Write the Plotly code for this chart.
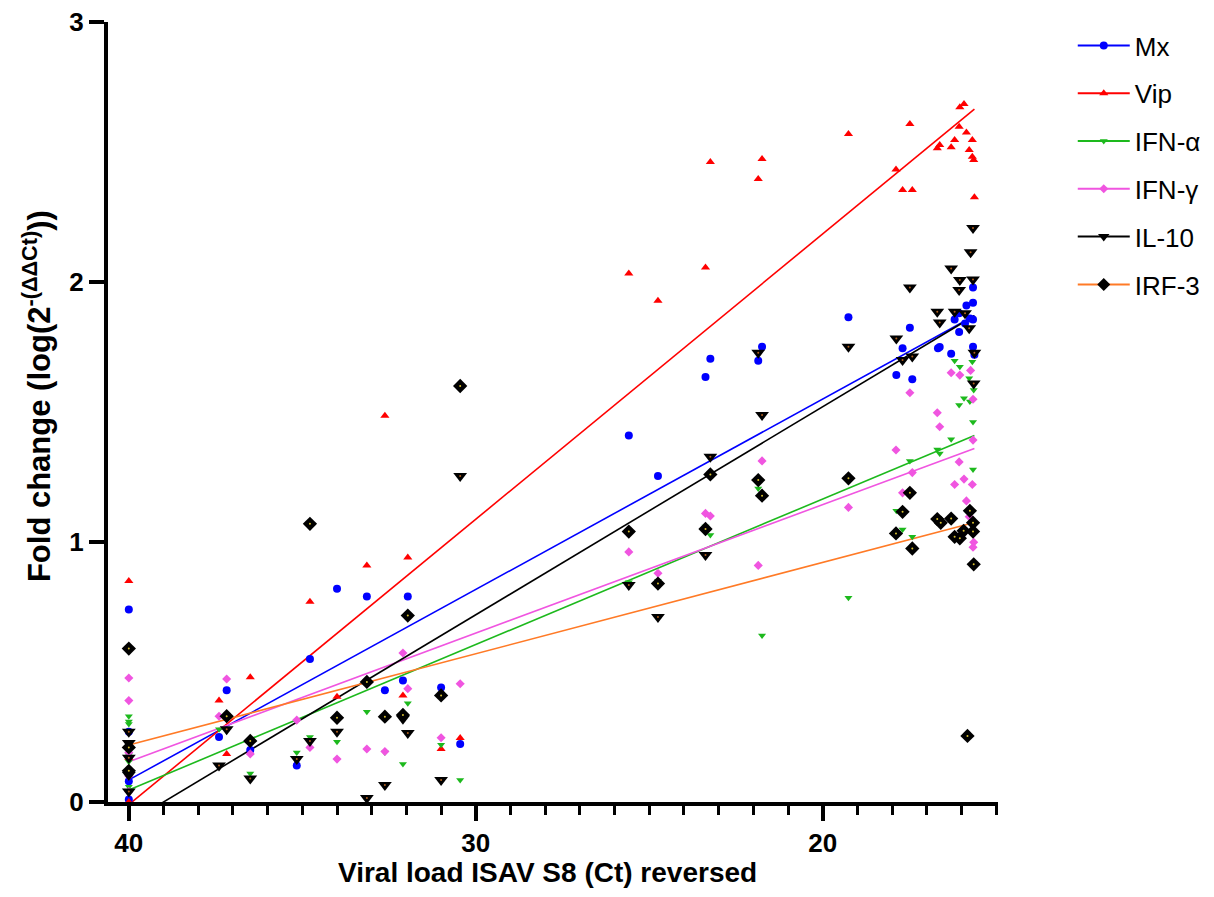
import plotly.graph_objects as go

# ---------------- data ----------------
mx_x = [40, 40, 40, 40, 40, 37.18, 37.4, 36.5, 35.16, 34.78, 34.0, 33.14, 32.62, 32.1, 31.96, 31.0, 30.45,
        25.59, 24.75, 23.38, 23.24, 21.86, 21.75, 19.26, 17.88, 17.7, 17.49, 17.42, 16.68, 16.63, 16.3,
        16.2, 16.07, 16.07, 15.9, 15.86, 15.76, 15.67, 15.67, 15.67, 15.67, 15.63]
mx_y = [0.74, 0.27, 0.21, 0.08, 0.01, 0.43, 0.25, 0.20, 0.14, 0.55, 0.82, 0.79, 0.43, 0.467, 0.79, 0.44, 0.223,
        1.41, 1.254, 1.635, 1.705, 1.697, 1.751, 1.864, 1.642, 1.745, 1.824, 1.626, 1.745, 1.75, 1.724,
        1.856, 1.88, 1.808, 1.84, 1.91, 1.86, 1.979, 1.92, 1.856, 1.751, 1.72]

vip_x = [40, 40, 40, 40, 40, 37.4, 37.18, 36.5, 34.78, 34.0, 33.14, 32.62, 32.1, 31.96, 31.0, 30.45,
         25.59, 24.75, 23.38, 23.24, 21.86, 21.75, 19.26, 17.89, 17.7, 17.49, 17.42, 16.7, 16.63, 16.3,
         16.2, 16.07, 16.05, 15.93, 15.86, 15.78, 15.69, 15.69, 15.65, 15.63]
vip_y = [0.85, 0.17, 0.13, 0.12, 0.0, 0.39, 0.185, 0.48, 0.77, 0.405, 0.91, 1.486, 0.41, 0.94, 0.204, 0.246,
         2.033, 1.928, 2.056, 2.462, 2.396, 2.473, 2.569, 2.433, 2.354, 2.608, 2.354, 2.514, 2.527, 2.518,
         2.546, 2.597, 2.672, 2.685, 2.575, 2.508, 2.546, 2.482, 2.469, 2.326]

ifna_x = [40, 40, 40, 40, 40, 40, 37.4, 36.5, 35.16, 34.78, 34.0, 33.14, 32.62, 32.1, 31.96, 31.0, 30.45,
          25.59, 24.75, 23.38, 23.24, 21.86, 21.75, 19.26, 17.88, 17.7, 17.49, 17.42, 16.7, 16.63, 16.3,
          16.2, 16.07, 16.05, 15.93, 15.78, 15.76, 15.69, 15.67, 15.67, 15.65]
ifna_y = [0.33, 0.31, 0.30, 0.18, 0.155, 0.059, 0.28, 0.11, 0.19, 0.25, 0.232, 0.347, 0.19, 0.146, 0.38, 0.22, 0.085,
          0.845, 0.85, 1.06, 1.027, 1.206, 0.64, 0.786, 1.12, 1.048, 1.312, 1.02, 1.356, 1.34, 1.395,
          1.697, 1.527, 1.674, 1.553, 1.63, 1.54, 1.693, 1.462, 1.279, 1.585]

ifng_x = [40, 40, 40, 40, 40, 37.18, 37.4, 36.5, 35.16, 34.78, 34.0, 33.14, 32.62, 32.1, 31.96, 31.0, 30.45,
          25.59, 24.75, 23.38, 23.24, 21.86, 21.75, 19.26, 17.89, 17.7, 17.49, 17.42, 16.7, 16.63, 16.3,
          16.2, 16.07, 16.05, 15.93, 15.86, 15.78, 15.74, 15.69, 15.67, 15.67, 15.67, 15.65]
ifng_y = [0.477, 0.39, 0.19, 0.10, 0.04, 0.473, 0.33, 0.185, 0.315, 0.21, 0.165, 0.204, 0.194, 0.573, 0.436, 0.247, 0.455,
          0.962, 0.88, 1.11, 1.10, 0.91, 1.312, 1.133, 1.354, 1.189, 1.574, 1.267, 1.497, 1.443, 1.651,
          1.221, 1.308, 1.642, 1.242, 1.158, 1.097, 1.66, 1.221, 1.549, 1.392, 0.98, 0.999]

il10_x = [40, 40, 40, 40, 40, 37.4, 37.18, 36.5, 35.16, 34.78, 34.0, 33.14, 32.62, 32.1, 31.96, 31.0, 30.45,
          25.59, 24.75, 23.38, 23.24, 21.86, 21.75, 19.26, 17.88, 17.7, 17.49, 17.42, 16.7, 16.63, 16.3,
          16.2, 16.07, 16.05, 15.9, 15.78, 15.74, 15.67, 15.67, 15.65, 15.63]
il10_y = [0.27, 0.227, 0.17, 0.104, 0.04, 0.14, 0.28, 0.09, 0.165, 0.235, 0.27, 0.015, 0.065, 0.32, 0.265, 0.085, 1.254,
          0.835, 0.712, 0.95, 1.328, 1.728, 1.488, 1.751, 1.783, 1.70, 1.979, 1.713, 1.886, 1.844, 2.052,
          1.886, 1.969, 2.008, 1.88, 1.822, 2.114, 2.208, 2.01, 1.61, 1.728]

irf3_x = [40, 40, 40, 37.18, 36.5, 34.78, 34.0, 33.14, 32.62, 32.1, 31.96, 31.0, 30.45,
          25.59, 24.75, 23.38, 23.24, 21.86, 21.75, 19.26, 17.89, 17.7, 17.49, 17.42, 16.7, 16.6, 16.3,
          16.2, 16.05, 15.94, 15.83, 15.76, 15.67, 15.67, 15.65]
irf3_y = [0.59, 0.21, 0.12, 0.33, 0.235, 1.07, 0.324, 0.462, 0.328, 0.335, 0.717, 0.41, 1.6,
          1.04, 0.84, 1.05, 1.26, 1.238, 1.178, 1.245, 1.033, 1.116, 1.189, 0.975, 1.088, 1.074, 1.09,
          1.02, 1.014, 1.043, 0.254, 1.12, 1.074, 1.04, 0.914]

# linear-fit end values (at Ct 40 and at Ct 15.63)
fit_x = [40, 15.63]
fit_mx = [0.085, 1.87]
fit_vip = [-0.01, 2.665]
fit_ifna = [0.046, 1.41]
fit_ifng = [0.155, 1.36]
fit_il10 = [-0.08, 1.87]
fit_irf3 = [0.219, 1.075]

x_ticks = [40, 30, 20]
y_ticks = [0, 1, 2, 3]

series = [
    ("Mx", mx_x, mx_y, fit_mx, "#0000FF", "#0000FF", "circle", 8),
    ("Vip", vip_x, vip_y, fit_vip, "#FF0000", "#FF0000", "triangle-up", 8),
    ("IFN-α", ifna_x, ifna_y, fit_ifna, "#1DB91D", "#1DB91D", "triangle-down", 7),
    ("IFN-γ", ifng_x, ifng_y, fit_ifng, "#F055E0", "#F055E0", "diamond", 7),
    ("IL-10", il10_x, il10_y, fit_il10, "#000000", "#000000", "triangle-down", 12),
    ("IRF-3", irf3_x, irf3_y, fit_irf3, "#FF7A26", "#000000", "diamond", 11),
]

FONT = "Liberation Sans, Arial, sans-serif"

fig = go.Figure()
for name, xs, ys, fit, lcol, mcol, sym, size in series:
    fig.add_trace(go.Scatter(x=fit_x, y=fit, mode="lines", line=dict(color=lcol, width=1.6),
                             showlegend=False, hoverinfo="skip"))
for name, xs, ys, fit, lcol, mcol, sym, size in series:
    fig.add_trace(go.Scatter(x=xs, y=ys, mode="markers", showlegend=False, name=name,
                             marker=dict(symbol=sym, size=size, color=mcol, line=dict(width=0))))
    if name in ("IL-10", "IRF-3"):
        fig.add_trace(go.Scatter(x=xs, y=ys, mode="markers", showlegend=False, hoverinfo="skip",
                                 marker=dict(symbol="circle", size=2,
                                             color="#D8C030" if name == "IRF-3" else "#B06020")))
# legend entries
for name, xs, ys, fit, lcol, mcol, sym, size in series:
    fig.add_trace(go.Scatter(x=[None], y=[None], mode="lines+markers", name=name, legendgroup=name,
                             line=dict(color=lcol, width=2),
                             marker=dict(symbol=sym, size=min(size, 10), color=mcol)))

axis_font = dict(family=FONT, size=26, color="black")
fig.update_layout(
    width=1206, height=889,
    margin=dict(l=100, r=216, t=14, b=95, autoexpand=False),
    plot_bgcolor="white", paper_bgcolor="white",
    font=dict(family=FONT, color="black"),
    showlegend=True,
    legend=dict(x=1.084, y=1.0, xanchor="left", yanchor="top",
                font=dict(family=FONT, size=26, color="black"),
                tracegroupgap=11, itemwidth=52, bgcolor="rgba(0,0,0,0)"),
    xaxis=dict(range=[40.6, 14.95], tickvals=x_ticks, ticktext=[f"<b>{v}</b>" for v in x_ticks],
               tickfont=axis_font, showgrid=False, zeroline=False, automargin=False,
               ticklabeloverflow="allow",
               showline=True, linecolor="black", linewidth=4,
               ticks="outside", ticklen=15, tickwidth=3.5, tickcolor="black",
               minor=dict(dtick=1, tick0=0, ticks="outside", ticklen=9, tickwidth=3, tickcolor="black",
                          showgrid=False)),
    yaxis=dict(range=[0, 3], tickvals=y_ticks, ticktext=[f"<b>{v}</b>" for v in y_ticks],
               tickfont=axis_font, showgrid=False, zeroline=False, automargin=False,
               ticklabeloverflow="allow",
               showline=True, linecolor="black", linewidth=4,
               ticks="outside", ticklen=15, tickwidth=3.5, tickcolor="black"),
    annotations=[
        dict(text="<b>Viral load ISAV S8 (Ct) reversed</b>", xref="paper", yref="paper",
             x=0.494, y=-0.09, xanchor="center", yanchor="middle", showarrow=False,
             font=dict(family=FONT, size=28, color="black")),
        dict(text="<b>Fold change (log(2<sup>-(ΔΔCt)</sup>))</b>", xref="paper", yref="paper",
             x=-0.079, y=0.52, xanchor="center", yanchor="middle", showarrow=False, textangle=-90,
             font=dict(family=FONT, size=31, color="black")),
    ],
)
fig.write_html("out.html")
